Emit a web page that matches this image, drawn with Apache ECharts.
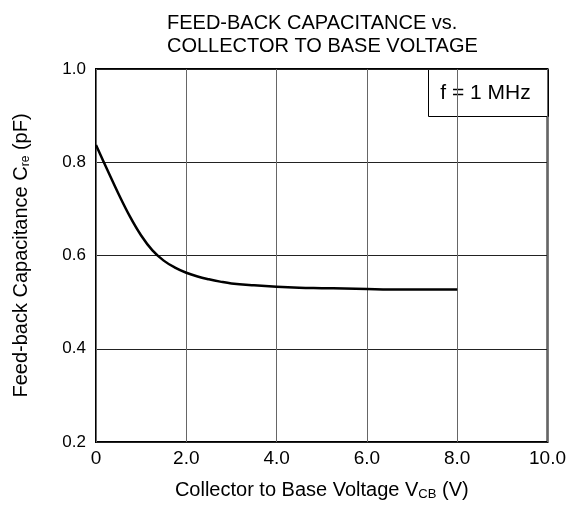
<!DOCTYPE html>
<html>
<head>
<meta charset="utf-8">
<script src="https://cdn.jsdelivr.net/npm/echarts@6/dist/echarts.min.js"></script>
<style>
  body { margin: 0; background: #fff; }
  #chart { width: 569px; height: 506px; }
</style>
</head>
<body>
<div id="chart"></div>
<script>
// Vcb (V) vs Cre (pF)
var vcb = [0, 0.25, 0.5, 0.75, 1.0, 1.25, 1.5, 1.75, 2.0, 2.25, 2.5, 2.75, 3.0, 3.5, 4.0, 4.5, 5.0, 5.5, 6.0, 6.5, 7.0, 7.5, 8.0];
var cre = [0.837, 0.784, 0.732, 0.684, 0.643, 0.611, 0.589, 0.574, 0.563, 0.555, 0.549, 0.544, 0.540, 0.536, 0.533, 0.531, 0.530, 0.529, 0.528, 0.527, 0.527, 0.527, 0.527];

var xTicks = ['0', '2.0', '4.0', '6.0', '8.0', '10.0'];

var font = '"Liberation Sans", Arial, sans-serif';

var chart = echarts.init(document.getElementById('chart'));

var option = {
  backgroundColor: '#fff',
  animation: false,
  textStyle: { fontFamily: font, color: '#000' },
  title: {
    text: 'FEED-BACK CAPACITANCE vs.\nCOLLECTOR TO BASE VOLTAGE',
    left: 162,
    top: 7,
    textStyle: { fontFamily: font, fontSize: 20, fontWeight: 'normal', color: '#000', lineHeight: 23 }
  },
  grid: {
    left: 96, right: 21, top: 69, bottom: 64,
    show: true, borderColor: '#000', borderWidth: 2
  },
  xAxis: {
    type: 'value',
    min: 0, max: 10, interval: 2,
    axisLine: { show: false },
    axisTick: { show: false },
    splitLine: { lineStyle: { color: '#666', width: 1 } },
    axisLabel: {
      margin: 7, fontSize: 19, color: '#000', fontFamily: font,
      formatter: function (v) { return xTicks[Math.round(v / 2)]; }
    },
    name: '{a|Collector to Base Voltage V}{s|CB}{a| (V)}',
    nameLocation: 'middle',
    nameGap: 37,
    nameTextStyle: {
      rich: {
        a: { fontSize: 20, fontFamily: font, color: '#000', lineHeight: 22 },
        s: { fontSize: 13, fontFamily: font, color: '#000', lineHeight: 22, verticalAlign: 'bottom', padding: [5, 0, 0, 0] }
      }
    }
  },
  yAxis: {
    type: 'value',
    min: 0.2, max: 1.0, interval: 0.2,
    axisLine: { show: false },
    axisTick: { show: false },
    splitLine: { lineStyle: { color: '#222', width: 1 } },
    axisLabel: {
      margin: 10, fontSize: 17, color: '#000', fontFamily: font,
      formatter: function (v) { return v.toFixed(1); }
    },
    name: '{a|Feed-back Capacitance C}{s|re}{a| (pF)}',
    nameLocation: 'middle',
    nameRotate: 90,
    nameGap: 64,
    nameTextStyle: {
      rich: {
        a: { fontSize: 20, fontFamily: font, color: '#000', lineHeight: 22 },
        s: { fontSize: 12, fontFamily: font, color: '#000', lineHeight: 22, verticalAlign: 'bottom', padding: [5, 0, 0, 0] }
      }
    }
  },
  graphic: [{
    type: 'group',
    left: 428, top: 69,
    children: [{
      type: 'rect',
      shape: { x: 0, y: 0, width: 120, height: 47 },
      style: { fill: '#fff', stroke: '#000', lineWidth: 1 }
    }, {
      type: 'text',
      x: 57, y: 24,
      style: { text: 'f = 1 MHz', fontSize: 21, fontFamily: font, fill: '#000', align: 'center', verticalAlign: 'middle' }
    }]
  }],
  series: [{
    type: 'line',
    data: vcb.map(function (v, i) { return [v, cre[i]]; }),
    smooth: 0.4,
    showSymbol: false,
    lineStyle: { color: '#000', width: 2.5 }
  }]
};

chart.setOption(option);
</script>
</body>
</html>
